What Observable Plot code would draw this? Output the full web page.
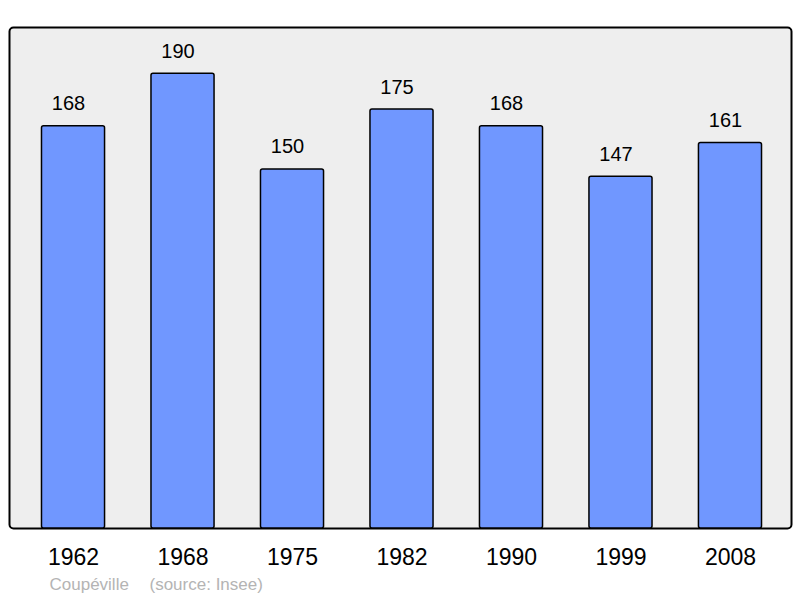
<!DOCTYPE html>
<html><head><meta charset="utf-8">
<script src="https://cdn.jsdelivr.net/npm/d3@7"></script>
<script src="https://cdn.jsdelivr.net/npm/@observablehq/plot@0.6"></script>
<style>body{margin:0;background:#fff}</style>
</head><body><div id="chart"></div>
<script>
const years = ["1962","1968","1975","1982","1990","1999","2008"];
const population = [168,190,150,175,168,147,161];
const captionName = "Coupéville";
const captionSource = "(source: Insee)";
const data = years.map((y,i)=>({year:y, value:population[i]}));
const chart = Plot.plot({
  width: 800, height: 598,
  marginLeft: 9, marginRight: 9, marginTop: 27, marginBottom: 70,
  style: {fontFamily: "'Liberation Sans', Arial, sans-serif", background: "#fff"},
  x: {domain: years, paddingInner: 0.424, paddingOuter: 0.283, range: [10.5, 792.5], round: false, label: null},
  y: {domain: [0, 209.3], axis: null},
  marks: [
    Plot.frame({fill: "#eeeeee", stroke: "#000", strokeWidth: 2, rx: 4}),
    Plot.barY(data, {x: "year", y: "value", fill: "#7097ff", stroke: "#000", strokeWidth: 1.5, rx: 2}),
    Plot.text(data, {x: "year", y: "value", text: d => String(d.value), lineAnchor: "bottom", dx: -5, dy: -16, fontSize: 20, fill: "#000"}),
    Plot.axisX({tickSize: 0, tickPadding: 20, fontSize: 23, color: "#000", label: null}),
    Plot.text([captionName], {frameAnchor: "bottom-left", text: d => d, dx: 40, dy: 56, fontSize: 17, fill: "#b4b4b4", textAnchor: "start", lineAnchor: "middle"}),
    Plot.text([captionSource], {frameAnchor: "bottom-left", text: d => d, dx: 140, dy: 56, fontSize: 17, fill: "#b4b4b4", textAnchor: "start", lineAnchor: "middle"})
  ]
});
document.getElementById("chart").append(chart);
</script></body></html>
